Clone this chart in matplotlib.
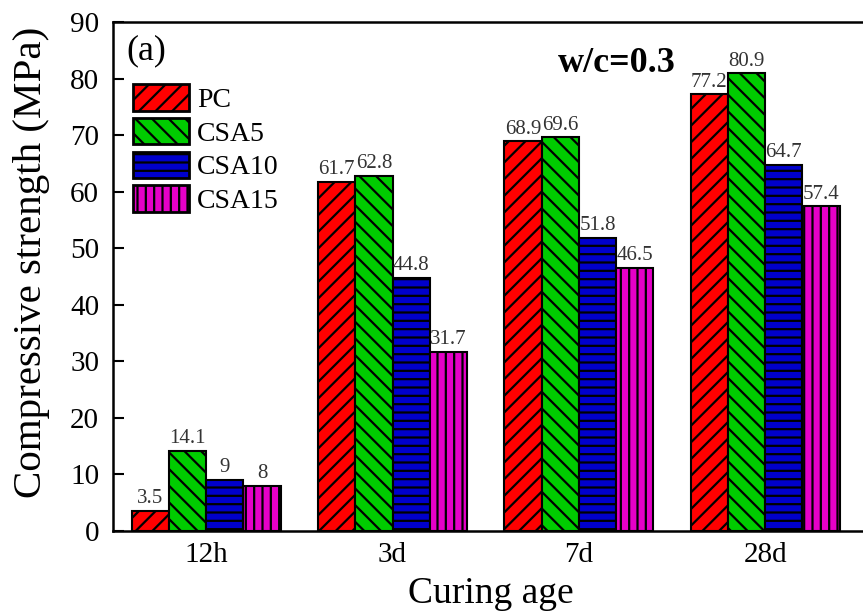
"""
Compressive strength of PC / CSA blends at w/c=0.3 for each curing age.
"""

import numpy as np
import matplotlib
matplotlib.use('Agg')
import matplotlib.pyplot as plt

ages = ['12h', '3d', '7d', '28d']
mixes = ['PC', 'CSA5', 'CSA10', 'CSA15']
pc = [3.5, 61.7, 68.9, 77.2]
csa5 = [14.1, 62.8, 69.6, 80.9]
csa10 = [9, 44.8, 51.8, 64.7]
csa15 = [8, 31.7, 46.5, 57.4]

plt.rcParams['font.family'] = 'Liberation Serif'
plt.rcParams['hatch.linewidth'] = 1.6
plt.rcParams['hatch.color'] = 'black'

colors = ['#FF0000', '#00CC00', '#0000CC', '#E600C8']
hatches = ['//', '\\\\', '--', '||']
series = [pc, csa5, csa10, csa15]

fig = plt.figure(figsize=(8.63, 6.11), dpi=100)
ax = fig.add_axes([113 / 863, 80 / 611, (877 - 113) / 863, 509 / 611])

x = np.arange(len(ages))
width = 0.2
for i, (vals, name) in enumerate(zip(series, mixes)):
    pos = x + (i - 1.5) * width
    bars = ax.bar(pos, vals, width, color=colors[i], edgecolor='black',
                  linewidth=1.5, hatch=hatches[i], label=name)
    for b, v in zip(bars, vals):
        ax.annotate('{:g}'.format(v), (b.get_x() + b.get_width() / 2, v),
                    xytext=(0, 2), textcoords='offset points',
                    ha='center', va='bottom', fontsize=15, color='#333333')

ax.set_xlim(-0.5, 3.6)
ax.set_ylim(0, 90)
ax.set_yticks(np.arange(0, 91, 10))
ax.set_xticks(x)
ax.set_xticklabels(ages)
ax.tick_params(axis='y', direction='in', length=8, width=1.5, labelsize=21, pad=10)
ax.tick_params(axis='x', length=0, labelsize=21, pad=8)
for s in ax.spines.values():
    s.set_linewidth(1.8)

ax.set_ylabel('Compressive strength (MPa)', fontsize=29.5)
ax.set_xlabel('Curing age', fontsize=27)
ax.xaxis.set_label_coords((491 - 113) / (877 - 113), -0.09)
ax.yaxis.set_label_coords((50 - 113) / (877 - 113), 0.527)

ax.text(0.018, 0.975, '(a)', transform=ax.transAxes, fontsize=26, va='top')
ax.text(0.66, 0.95, 'w/c=0.3', transform=ax.transAxes, fontsize=26,
        fontweight='bold', ha='center', va='top')

leg = ax.legend(loc='upper left', bbox_to_anchor=(0.012, 0.9), frameon=False,
                fontsize=20, handlelength=2.0, handleheight=1.1,
                labelspacing=0.18, handletextpad=0.3, borderaxespad=0)
for h in leg.legend_handles:
    h.set_linewidth(2)

fig.savefig('out.png', dpi=100)
